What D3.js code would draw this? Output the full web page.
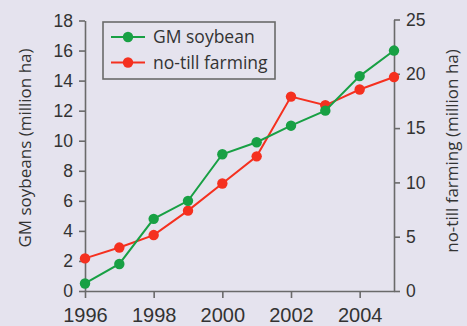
<!DOCTYPE html>
<html><head><meta charset="utf-8">
<script src="https://cdn.jsdelivr.net/npm/d3@7"></script>
<style>
html,body{margin:0;padding:0;background:#e5e3ee;}
svg{display:block;font-family:"Open Sans",sans-serif;}
</style></head>
<body>
<script>
const years = [1996,1997,1998,1999,2000,2001,2002,2003,2004,2005];
const gmSoybean = [0.5,1.8,4.8,6.0,9.1,9.9,11.0,12.0,14.3,16.0];
const noTill = [3.0,4.0,5.15,7.4,9.9,12.4,17.9,17.1,18.55,19.7];
const xTicks = [1996,1998,2000,2002,2004];
const leftTicks = [0,2,4,6,8,10,12,14,16,18];
const rightTicks = [0,5,10,15,20,25];
const seriesNames = ["GM soybean","no-till farming"];
const colors = ["#18a044","#f5301f"];

const W=467,H=326;
const svg=d3.select("body").append("svg").attr("width",W).attr("height",H);
svg.append("rect").attr("width",W).attr("height",H).attr("fill","#e5e3ee");

const x=d3.scaleLinear().domain([1996,2005]).range([85,394]);
const yL=d3.scaleLinear().domain([0,18]).range([291,20.5]);
const yR=d3.scaleLinear().domain([0,25]).range([291,19.5]);
const axisColor="#6a6a6a", textColor="#333";

function style(g){
  g.select(".domain").attr("stroke",axisColor).attr("stroke-width",1.6);
  g.selectAll(".tick line").attr("stroke",axisColor).attr("stroke-width",1.6);
  g.selectAll(".tick text").attr("fill",textColor).style("font-size","17.5px");
}
const gx=svg.append("g").attr("transform","translate(0,291)")
  .call(d3.axisBottom(x).tickValues(xTicks).tickFormat(d3.format("d")).tickSize(7).tickSizeOuter(0).tickPadding(10));
style(gx);
gx.selectAll(".tick text").style("font-size","20px");
const gl=svg.append("g").attr("transform","translate(85,0)")
  .call(d3.axisLeft(yL).tickValues(leftTicks).tickSize(6).tickSizeOuter(0).tickPadding(6));
style(gl);
const gr=svg.append("g").attr("transform","translate(394,0)")
  .call(d3.axisRight(yR).tickValues(rightTicks).tickSize(6).tickSizeOuter(0).tickPadding(6));
style(gr);

svg.append("text").attr("transform","translate(31,148) rotate(-90)").attr("text-anchor","middle")
  .attr("fill",textColor).style("font-size","17px").text("GM soybeans (million ha)");
svg.append("text").attr("transform","translate(458,151) rotate(-90)").attr("text-anchor","middle")
  .attr("fill",textColor).style("font-size","17px").text("no-till farming (million ha)");

const data=[
  years.map((y,i)=>[x(y),yL(gmSoybean[i])]),
  years.map((y,i)=>[x(y),yR(noTill[i])])
];
[1,0].forEach(k=>{
  svg.append("path").attr("d",d3.line()(data[k])).attr("fill","none")
    .attr("stroke",colors[k]).attr("stroke-width",2);
  svg.selectAll(null).data(data[k]).enter().append("circle")
    .attr("cx",d=>d[0]).attr("cy",d=>d[1]).attr("r",5.2).attr("fill",colors[k]);
});

const lg=svg.append("g");
lg.append("rect").attr("x",103).attr("y",22).attr("width",172).attr("height",57)
  .attr("fill","#e5e3ee").attr("stroke",axisColor).attr("stroke-width",1.6);
seriesNames.forEach((n,i)=>{
  const yy=37+i*25.5;
  lg.append("line").attr("x1",111).attr("x2",145).attr("y1",yy).attr("y2",yy)
    .attr("stroke",colors[i]).attr("stroke-width",2);
  lg.append("circle").attr("cx",128).attr("cy",yy).attr("r",5.2).attr("fill",colors[i]);
  lg.append("text").attr("x",153).attr("y",yy+6).attr("fill",textColor)
    .style("font-size","17.5px").text(n);
});
</script>
</body></html>
